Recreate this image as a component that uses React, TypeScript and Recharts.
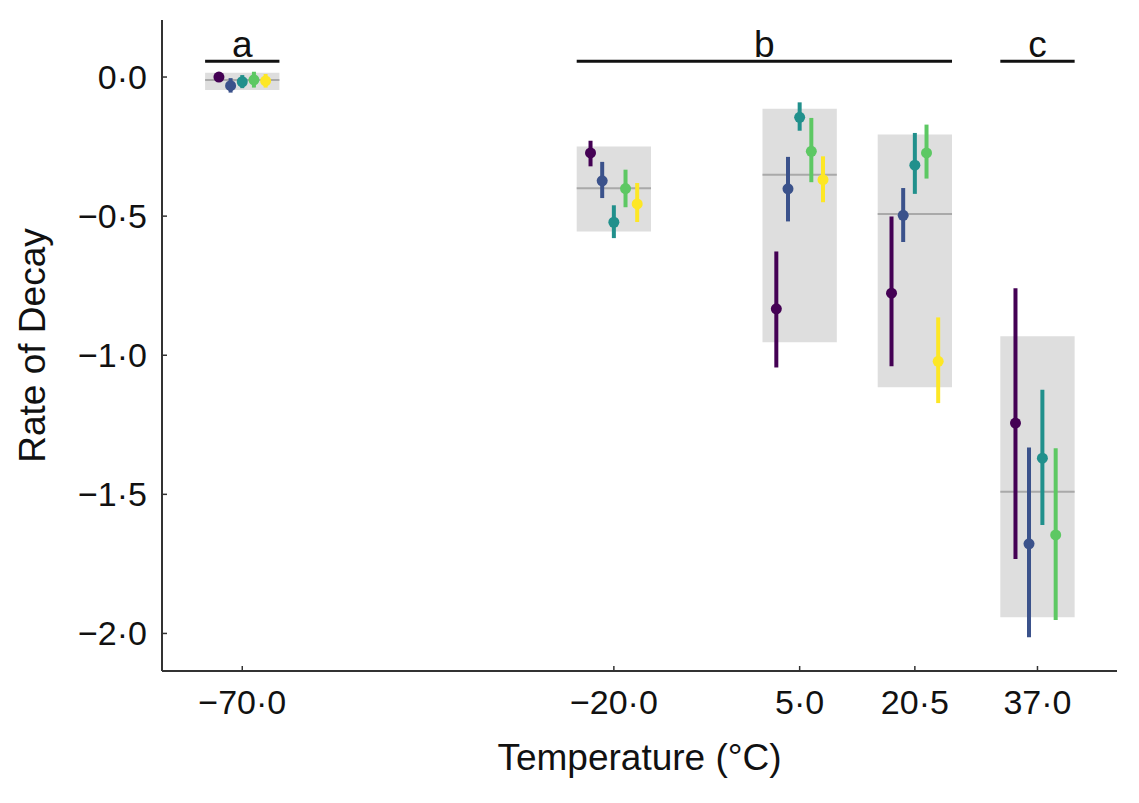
import React from 'react';
import {
  ComposedChart, Scatter, ErrorBar, XAxis, YAxis, ReferenceArea, ReferenceLine, Label,
} from 'recharts';

// temperatures (°C) and tick values
const temps = [-70, -20, 5, 20.5, 37];
const yTicks = [0, -0.5, -1, -1.5, -2];

// grey group boxes: low / high / mean line
const boxLow = [-0.047, -0.555, -0.953, -1.115, -1.942];
const boxHigh = [0.015, -0.25, -0.114, -0.207, -0.932];
const boxMean = [-0.011, -0.4, -0.351, -0.492, -1.491];

// per series: [mean, low, high] for each temperature
const purple = [[0.0, -0.004, 0.006], [-0.273, -0.321, -0.229], [-0.833, -1.044, -0.627], [-0.777, -1.04, -0.501], [-1.244, -1.732, -0.759]];
const blue = [[-0.031, -0.056, -0.004], [-0.373, -0.435, -0.305], [-0.402, -0.519, -0.287], [-0.497, -0.593, -0.399], [-1.678, -2.014, -1.332]];
const teal = [[-0.017, -0.04, 0.007], [-0.522, -0.579, -0.461], [-0.145, -0.193, -0.091], [-0.317, -0.42, -0.201], [-1.37, -1.61, -1.124]];
const green = [[-0.01, -0.038, 0.019], [-0.401, -0.468, -0.333], [-0.267, -0.378, -0.147], [-0.273, -0.365, -0.171], [-1.646, -1.952, -1.334]];
const yellow = [[-0.014, -0.038, 0.011], [-0.456, -0.521, -0.381], [-0.369, -0.45, -0.285], [-1.022, -1.172, -0.864], null];

// significance groups: letter, first and last temperature index
const sigLetters = ['a', 'b', 'c'];
const sigFrom = [0, 1, 4];
const sigTo = [0, 3, 4];

const seriesList = [
  { name: 'purple', color: '#440154', rows: purple },
  { name: 'blue', color: '#3b528b', rows: blue },
  { name: 'teal', color: '#21908c', rows: teal },
  { name: 'green', color: '#5dc863', rows: green },
  { name: 'yellow', color: '#fde725', rows: yellow },
];

// horizontal dodge (in °C) of each series within a group
const dodge = [
  [-3.14, -1.57, 0, 1.57, 3.14],
  [-3.14, -1.57, 0, 1.57, 3.14],
  [-3.14, -1.57, 0, 1.57, 3.14],
  [-3.14, -1.57, 0, 1.57, 3.14],
  [-2.96, -1.14, 0.66, 2.45, 0],
];
const BOX_HALF = 5;
const SIG_Y = 0.057;

const X_MARGIN = 20;
const Y_MARGIN = 16;
const INK = '#111';
const AXIS = '#333';

const fmt = (v: number) => v.toFixed(1).replace('.', '·').replace('-', '−');

const XTick = (props: any) => {
  const { x, y, payload } = props;
  const axisY = y - X_MARGIN;
  return (
    <g>
      <line x1={x} x2={x} y1={axisY} y2={axisY - 5} stroke={AXIS} strokeWidth={1.5} />
      <text x={x} y={axisY + 43} textAnchor="middle" fontSize={34} fill={INK}>{fmt(payload.value)}</text>
    </g>
  );
};

const YTick = (props: any) => {
  const { x, y, payload } = props;
  const axisX = x + Y_MARGIN;
  return (
    <g>
      <line x1={axisX} x2={axisX + 5} y1={y} y2={y} stroke={AXIS} strokeWidth={1.5} />
      <text x={axisX - 15} y={y + 12} textAnchor="end" fontSize={34} fill={INK}>{fmt(payload.value)}</text>
    </g>
  );
};

const YTitle = (props: any) => {
  const vb = props.viewBox;
  const cx = 45;
  const cy = vb.y + vb.height / 2;
  return (
    <text x={cx} y={cy} transform={`rotate(-90, ${cx}, ${cy})`} textAnchor="middle" fontSize={37} fill={INK}>
      Rate of Decay
    </text>
  );
};

const XTitle = (props: any) => {
  const vb = props.viewBox;
  return (
    <text x={vb.x + vb.width / 2} y={vb.y + 99} textAnchor="middle" fontSize={37} fill={INK}>
      Temperature (°C)
    </text>
  );
};

export default function App() {
  const seriesData = seriesList.map((s, si) => ({
    ...s,
    data: temps
      .map((t, ti) => {
        const r = s.rows[ti];
        if (!r) return null;
        const [mean, lo, hi] = r;
        return { x: t + dodge[ti][si], y: mean, err: [mean - lo, hi - mean] };
      })
      .filter(Boolean),
  }));

  return (
    <div style={{ position: 'absolute', left: 0, top: 0, fontFamily: '"Liberation Sans", Arial, Helvetica, sans-serif' }}>
      <ComposedChart width={1139} height={803} margin={{ top: 20, right: 22, bottom: 0, left: 0 }}>
        <XAxis
          type="number"
          dataKey="x"
          domain={[-80.8, 47.7]}
          ticks={temps}
          allowDataOverflow
          height={132}
          tickSize={0}
          tickMargin={X_MARGIN}
          tick={<XTick />}
          axisLine={{ stroke: AXIS, strokeWidth: 2 }}
        >
          <Label content={<XTitle />} />
        </XAxis>
        <YAxis
          type="number"
          dataKey="y"
          domain={[-2.135, 0.205]}
          ticks={yTicks}
          allowDataOverflow
          width={162}
          tickSize={0}
          tickMargin={Y_MARGIN}
          tick={<YTick />}
          axisLine={{ stroke: AXIS, strokeWidth: 2 }}
        >
          <Label content={<YTitle />} />
        </YAxis>

        {temps.map((t, i) => (
          <ReferenceArea
            key={`box-${t}`}
            x1={t - BOX_HALF}
            x2={t + BOX_HALF}
            y1={boxLow[i]}
            y2={boxHigh[i]}
            fill="#dedede"
            fillOpacity={1}
            stroke="none"
          />
        ))}
        {temps.map((t, i) => (
          <ReferenceLine
            key={`mean-${t}`}
            segment={[{ x: t - BOX_HALF, y: boxMean[i] }, { x: t + BOX_HALF, y: boxMean[i] }]}
            stroke="#a9a9a9"
            strokeWidth={2}
          />
        ))}
        {sigLetters.map((l, i) => (
          <ReferenceLine
            key={`sig-${l}`}
            segment={[{ x: temps[sigFrom[i]] - BOX_HALF, y: SIG_Y }, { x: temps[sigTo[i]] + BOX_HALF, y: SIG_Y }]}
            stroke={INK}
            strokeWidth={3}
            label={{ value: l, position: 'top', offset: 4, fontSize: 37, fill: INK }}
          />
        ))}

        {seriesData.map((s) => (
          <Scatter
            key={s.name}
            name={s.name}
            data={s.data}
            fill={s.color}
            isAnimationActive={false}
            shape={(p: any) => <circle cx={p.cx} cy={p.cy} r={5.5} fill={s.color} />}
          >
            <ErrorBar dataKey="err" direction="y" width={0} strokeWidth={4} stroke={s.color} isAnimationActive={false} />
          </Scatter>
        ))}
      </ComposedChart>
    </div>
  );
}
